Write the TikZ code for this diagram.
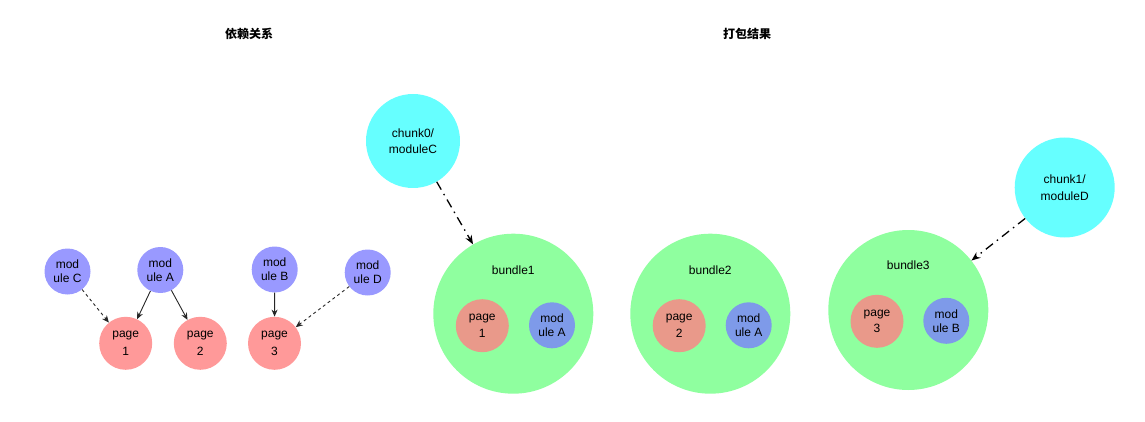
\documentclass[tikz,border=0pt]{standalone}
\usepackage{fontspec}
\setmainfont{Liberation Sans}
\newfontfamily\cjk{Noto Sans CJK SC}
\usetikzlibrary{arrows.meta}
\definecolor{modc}{HTML}{9999FF}
\definecolor{pagec}{HTML}{FF9999}
\definecolor{chunkc}{HTML}{66FFFF}
\definecolor{bundlec}{HTML}{8FFF9F}
\definecolor{ipagec}{HTML}{E9998A}
\definecolor{imodc}{HTML}{7E9AE9}
\begin{document}
\begin{tikzpicture}[x=1pt,y=-1pt,
  every node/.style={font=\fontsize{12}{14}\selectfont, inner sep=0pt, align=center},
  modnode/.style={circle, fill=modc, minimum size=46pt, font=\fontsize{12}{14}\selectfont},
  pagenode/.style={circle, fill=pagec, minimum size=53pt, font=\fontsize{12}{18}\selectfont},
  chunknode/.style={circle, fill=chunkc, minimum size=94pt, font=\fontsize{12}{16.5}\selectfont},
  bundlenode/.style={circle, fill=bundlec, minimum size=160pt},
  ipagenode/.style={circle, fill=ipagec, minimum size=53pt, font=\fontsize{12}{16.5}\selectfont},
  imodnode/.style={circle, fill=imodc, minimum size=46pt, font=\fontsize{12}{14}\selectfont},
  titlenode/.style={font=\cjk\bfseries\fontsize{12}{14}\selectfont},
  deparrow/.style={draw=black!85, line width=0.9pt, -{Stealth[length=7pt,width=6pt]}},
  depdash/.style={deparrow, dash pattern=on 3pt off 3pt},
  chunkarrow/.style={draw=black, line width=1.3pt, dash pattern=on 9pt off 5pt on 1.5pt off 5pt, -{Stealth[length=9pt,width=7pt]}}
]
\useasboundingbox (0,0) rectangle (1145,422);
% titles
\node[titlenode] (t1) at (249,34) {依赖关系};
\node[titlenode] (t2) at (747,34) {打包结果};
% left graph
\node[modnode] (mC) at (67.5,271.5) {mod\\ule C};
\node[modnode] (mA) at (160.3,270) {mod\\ule A};
\node[modnode] (mB) at (274.7,269.5) {mod\\ule B};
\node[modnode] (mD) at (367.7,272.5) {mod\\ule D};
\node[pagenode] (p1) at (125.7,343.3) {page\\1};
\node[pagenode] (p2) at (200.3,343.3) {page\\2};
\node[pagenode] (p3) at (274.5,343.3) {page\\3};
\draw[depdash] (mC) -- (p1);
\draw[deparrow] (mA) -- (p1);
\draw[deparrow] (mA) -- (p2);
\draw[deparrow] (mB) -- (p3);
\draw[depdash] (mD) -- (p3);
% chunks
\node[chunknode] (c0) at (413,141) {chunk0/\\moduleC};
\node[chunknode, minimum size=100pt] (c1) at (1064.7,187.5) {chunk1/\\moduleD};
% bundles
\node[bundlenode] (b1) at (513.3,313.7) {};
\node[bundlenode] (b2) at (710.3,313.7) {};
\node[bundlenode] (b3) at (908.3,310) {};
\node (b1l) at (513.3,270) {bundle1};
\node (b2l) at (710.3,270) {bundle2};
\node (b3l) at (908.3,265) {bundle3};
\node[ipagenode] (ip1) at (482.3,325.7) {page\\1};
\node[imodnode] (im1) at (552,325.3) {mod\\ule A};
\node[ipagenode] (ip2) at (679.2,325.7) {page\\2};
\node[imodnode] (im2) at (748.7,325.3) {mod\\ule A};
\node[ipagenode] (ip3) at (877,321.3) {page\\3};
\node[imodnode] (im3) at (946.3,320.8) {mod\\ule B};
\draw[chunkarrow] (c0) -- (b1);
\draw[chunkarrow] (c1) -- (b3);
\end{tikzpicture}
\end{document}
